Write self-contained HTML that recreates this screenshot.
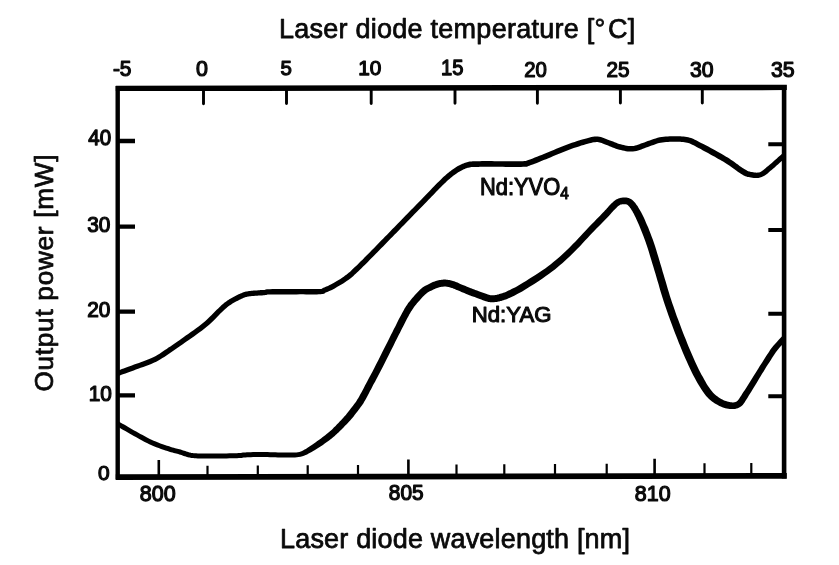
<!DOCTYPE html>
<html lang="en"><head><meta charset="utf-8"><title>Output power vs laser diode wavelength</title>
<style>
html,body{margin:0;padding:0;background:#fff}
body{width:839px;height:565px;overflow:hidden}
svg{display:block}
text{font-family:"Liberation Sans",Arial,Helvetica,sans-serif;fill:#0a0a0a}
.ax{font-size:27px;stroke:#0a0a0a;stroke-width:0.75px;stroke-linejoin:round}
.tk{font-size:23.1px;stroke:#0a0a0a;stroke-width:1.25px;stroke-linejoin:round}
.lb{font-size:24.2px;stroke:#0a0a0a;stroke-width:1.1px;stroke-linejoin:round}
</style></head>
<body>
<svg width="839" height="565" viewBox="0 0 839 565">
<rect width="839" height="565" fill="#fff"/>
<g stroke="#000" fill="none" stroke-linecap="butt">
<path d="M117.7 479.5L117.7 86" stroke-width="4.4"/>
<path d="M115.8 88.4L786.8 87.4" stroke-width="5.4"/>
<path d="M784.1 85L784.1 478.4" stroke-width="4.6"/>
<path d="M115.8 477.2L786.8 475.9" stroke-width="5.8"/>
<path d="M203.5 89L203.5 103.7M286.5 89L286.5 103.6M371.2 89L371.2 103.5M455.0 89L455.0 103.3M537.4 89L537.4 103.2M620.4 89L620.4 103.1M702.3 89L702.3 103.0" stroke-width="2.9" stroke-linecap="round"/>
<path d="M158.8 476L158.8 460.1M408.4 476L408.4 459.5M654.6 476L654.6 458.8" stroke-width="2.6"/>
<path d="M207.5 476L207.5 465.8M257.8 476L257.8 465.6M307.7 476L307.7 465.3M358.0 476L358.0 465.0M456.5 476L456.5 464.5M504.3 476L504.3 464.3M555.0 476L555.0 464.0M606.7 476L606.7 463.7M704.5 476L704.5 463.2M751.3 476L751.3 463.0" stroke-width="2.2"/>
<path d="M119 141.0L135 141.0M119 226.6L135 226.6M119 311.6L135 311.6M119 395.4L135 395.4" stroke-width="4.3"/>
<path d="M783 144.3L768.3 144.3M783 230.0L768.3 230.0M783 313.8L768.3 313.8M783 396.2L768.3 396.2" stroke-width="3.9"/>
<path d="M118.4 376.0L118.5 376.0L118.5 376.0L118.5 375.9L118.7 375.9L118.9 375.8L119.3 375.7L120.0 375.4L120.9 375.1L122.1 374.6L123.7 374.1L125.4 373.5L127.3 372.8L129.4 372.0L131.5 371.2L133.7 370.4L135.9 369.6L138.2 368.7L140.7 367.8L143.3 366.9L145.9 365.9L148.6 364.9L151.2 363.9L153.8 362.8L156.2 361.7L158.4 360.5L160.5 359.3L162.4 358.1L164.3 356.9L166.1 355.7L167.9 354.5L169.7 353.2L171.5 352.0L173.3 350.8L175.1 349.6L176.9 348.3L178.7 347.1L180.5 345.8L182.4 344.5L184.4 343.1L186.5 341.6L188.8 339.9L191.3 338.2L193.9 336.4L196.5 334.5L199.2 332.6L201.8 330.7L204.3 328.7L206.7 326.8L208.9 324.9L211.1 322.9L213.2 320.9L215.2 318.9L217.1 317.0L218.8 315.2L220.4 313.6L221.8 312.2L223.1 311.0L224.1 310.0L225.0 309.2L225.8 308.5L226.5 307.9L227.2 307.3L227.9 306.7L228.7 306.1L229.5 305.5L230.4 304.9L231.2 304.4L232.1 303.8L232.9 303.3L233.8 302.8L234.7 302.3L235.6 301.8L236.5 301.3L237.3 300.9L238.2 300.4L239.1 300.0L240.0 299.6L240.8 299.2L241.6 298.8L242.4 298.4L243.2 298.1L243.9 297.8L244.6 297.6L245.2 297.3L245.9 297.1L246.5 296.9L247.2 296.8L248.0 296.6L248.9 296.4L249.8 296.3L250.8 296.2L251.8 296.1L252.9 296.0L254.0 295.9L255.1 295.8L256.2 295.7L257.3 295.7L258.5 295.6L259.7 295.5L260.9 295.4L262.1 295.4L263.2 295.3L264.3 295.2L265.3 295.1L266.1 295.0L267.1 294.7L267.8 294.3L267.4 294.5L267.0 294.6L267.3 294.6L268.3 294.5L270.1 294.4L272.6 294.4L276.0 294.4L279.8 294.4L284.0 294.4L288.3 294.4L292.6 294.4L296.5 294.4L300.0 294.3L303.1 294.3L306.2 294.4L309.1 294.4L311.9 294.4L314.4 294.4L316.8 294.4L318.9 294.3L320.7 294.2L322.0 294.1L323.0 294.0L323.9 293.8L324.9 293.2L325.4 292.7L325.3 292.7L325.2 292.8L325.6 292.6L326.4 292.3L327.3 291.9L328.3 291.5L329.4 291.0L330.6 290.5L331.9 289.9L333.3 289.2L334.7 288.4L336.2 287.6L337.8 286.6L339.6 285.6L341.4 284.5L343.2 283.4L345.0 282.2L346.7 281.1L348.3 280.0L349.7 278.9L351.0 277.9L352.2 276.9L353.4 275.9L354.5 274.8L355.7 273.7L357.0 272.6L358.4 271.3L359.9 269.8L361.5 268.3L363.1 266.6L364.8 264.9L366.6 263.2L368.3 261.4L370.1 259.6L371.9 257.8L373.7 256.0L375.6 254.1L377.4 252.2L379.3 250.3L381.2 248.3L383.1 246.4L385.0 244.4L386.9 242.5L388.8 240.6L390.7 238.6L392.6 236.7L394.4 234.8L396.3 232.9L398.2 230.9L400.1 229.0L401.9 227.1L403.8 225.2L405.7 223.2L407.6 221.3L409.4 219.4L411.3 217.5L413.2 215.5L415.1 213.6L416.9 211.7L418.8 209.7L420.8 207.7L422.8 205.7L424.7 203.7L426.7 201.7L428.5 199.8L430.3 198.0L431.9 196.3L433.5 194.7L434.9 193.2L436.2 191.8L437.5 190.5L438.7 189.3L439.9 188.1L441.0 186.9L442.1 185.8L443.2 184.8L444.2 183.8L445.1 182.9L446.1 182.0L447.0 181.1L447.9 180.3L448.8 179.5L449.8 178.7L450.8 177.8L451.9 177.0L452.9 176.1L454.0 175.3L455.1 174.5L456.2 173.7L457.2 173.0L458.2 172.3L459.2 171.7L460.1 171.2L461.1 170.7L462.0 170.2L462.9 169.8L463.8 169.3L464.7 169.0L465.5 168.6L466.3 168.3L467.1 168.1L467.7 167.8L468.4 167.7L469.1 167.5L469.7 167.4L470.5 167.2L471.4 167.1L472.2 167.0L473.0 167.0L473.8 166.9L474.7 166.9L475.7 166.9L476.9 166.9L478.4 166.9L480.0 166.8L482.0 166.8L484.2 166.8L486.6 166.8L489.1 166.8L491.8 166.8L494.5 166.8L497.3 166.8L500.0 166.8L502.8 166.8L505.9 166.9L509.2 166.9L512.4 166.9L515.5 166.9L518.4 166.9L521.0 166.9L523.1 166.8L524.5 166.8L525.4 166.8L526.0 166.8L526.8 166.7L527.5 166.4L527.9 166.3L528.4 166.0L529.4 165.7L531.0 165.1L532.8 164.5L534.7 163.7L536.9 162.9L539.1 162.0L541.4 161.1L543.7 160.1L546.1 159.2L548.4 158.2L550.9 157.2L553.4 156.1L555.9 155.1L558.4 154.0L561.0 152.9L563.5 151.9L566.0 150.9L568.5 150.0L571.1 149.1L573.7 148.1L576.4 147.2L578.9 146.4L581.4 145.6L583.6 144.9L585.8 144.3L587.7 143.8L589.4 143.3L591.0 142.9L592.5 142.6L593.8 142.3L595.1 142.2L596.3 142.1L597.5 142.1L598.6 142.2L599.6 142.4L600.6 142.7L601.6 143.1L602.7 143.5L603.9 144.1L605.2 144.6L606.6 145.1L608.1 145.6L609.5 146.2L611.0 146.8L612.6 147.4L614.2 148.1L615.9 148.7L617.6 149.2L619.3 149.7L620.9 150.1L622.5 150.5L624.2 150.8L625.9 151.2L627.6 151.4L629.4 151.6L631.1 151.6L632.9 151.6L634.7 151.3L636.5 151.0L638.1 150.5L639.7 149.9L641.3 149.4L642.9 148.8L644.4 148.2L646.1 147.6L647.9 147.0L649.7 146.3L651.6 145.6L653.5 144.9L655.4 144.2L657.2 143.6L659.0 143.1L660.8 142.7L662.5 142.4L664.3 142.2L666.1 142.0L668.0 141.9L669.8 141.8L671.7 141.8L673.5 141.8L675.2 141.8L676.9 141.8L678.5 141.8L680.1 141.8L681.6 141.9L683.0 142.0L684.4 142.2L685.8 142.4L687.1 142.7L688.3 143.0L689.3 143.3L690.3 143.7L691.3 144.2L692.3 144.7L693.6 145.3L695.0 146.1L696.6 146.9L698.5 147.9L700.7 149.1L703.0 150.4L705.5 151.7L708.0 153.0L710.4 154.4L712.7 155.7L714.8 156.8L716.7 157.9L718.4 158.9L720.0 159.8L721.6 160.7L723.1 161.6L724.6 162.6L726.1 163.5L727.7 164.5L729.3 165.6L731.0 166.8L732.7 168.0L734.5 169.3L736.2 170.6L737.8 171.8L739.4 172.8L740.9 173.8L742.2 174.5L743.3 175.2L744.3 175.7L745.4 176.2L746.4 176.6L747.5 176.9L748.6 177.1L749.8 177.3L751.0 177.5L752.3 177.7L753.8 177.9L755.3 178.0L756.8 178.0L758.4 177.9L760.1 177.5L761.7 177.0L763.3 176.3L764.8 175.4L766.2 174.4L767.6 173.4L768.9 172.2L770.2 171.0L771.6 169.9L773.0 168.7L774.6 167.4L776.3 165.8L778.2 164.2L780.0 162.5L781.8 161.0L783.4 159.5L784.7 158.3L785.7 157.4L782.3 153.6L781.3 154.4L779.9 155.7L778.3 157.1L776.6 158.7L774.7 160.3L772.9 161.9L771.2 163.4L769.6 164.7L768.2 165.9L766.8 167.1L765.5 168.3L764.3 169.3L763.1 170.3L762.0 171.1L760.9 171.7L759.9 172.2L758.9 172.5L757.8 172.6L756.7 172.7L755.5 172.6L754.3 172.5L753.1 172.3L752.0 172.1L750.8 171.9L749.8 171.6L749.0 171.4L748.3 171.2L747.6 170.9L746.9 170.5L746.1 170.1L745.1 169.5L743.9 168.8L742.6 168.0L741.2 167.0L739.6 165.9L737.9 164.6L736.2 163.4L734.4 162.1L732.6 160.8L730.9 159.7L729.3 158.6L727.7 157.6L726.1 156.7L724.6 155.7L723.0 154.8L721.3 153.8L719.5 152.8L717.6 151.8L715.5 150.6L713.2 149.3L710.8 148.0L708.3 146.6L705.8 145.3L703.4 144.0L701.1 142.9L699.2 141.9L697.5 141.1L696.1 140.3L694.8 139.7L693.6 139.1L692.4 138.6L691.1 138.1L689.8 137.7L688.3 137.3L686.8 137.0L685.2 136.7L683.6 136.5L681.9 136.4L680.3 136.3L678.6 136.3L676.9 136.3L675.2 136.2L673.4 136.2L671.6 136.3L669.7 136.3L667.7 136.4L665.7 136.5L663.7 136.7L661.7 136.9L659.6 137.3L657.6 137.8L655.6 138.4L653.6 139.0L651.6 139.7L649.7 140.4L647.8 141.1L646.0 141.8L644.3 142.4L642.6 143.0L640.9 143.6L639.4 144.2L637.9 144.7L636.5 145.2L635.1 145.6L633.8 145.9L632.5 146.0L631.1 146.1L629.7 146.0L628.3 145.9L626.8 145.7L625.3 145.4L623.8 145.1L622.2 144.7L620.7 144.3L619.2 143.9L617.7 143.4L616.2 142.8L614.6 142.2L613.1 141.6L611.5 141.0L610.0 140.4L608.6 139.9L607.3 139.4L606.1 138.9L604.9 138.4L603.6 137.9L602.3 137.4L600.9 137.0L599.4 136.7L597.7 136.5L596.1 136.5L594.5 136.6L593.0 136.8L591.4 137.1L589.7 137.5L588.0 137.9L586.2 138.4L584.2 138.9L582.1 139.5L579.7 140.3L577.2 141.1L574.6 141.9L571.9 142.8L569.2 143.8L566.6 144.7L564.0 145.7L561.4 146.7L558.9 147.7L556.3 148.8L553.7 149.9L551.1 151.0L548.7 152.0L546.3 153.0L543.9 154.0L541.6 154.9L539.3 155.8L537.0 156.8L534.8 157.6L532.7 158.4L530.8 159.2L529.1 159.8L527.6 160.3L526.4 160.7L525.7 161.1L525.3 161.2L525.5 161.1L525.7 161.1L525.3 161.1L524.4 161.1L522.9 161.2L520.9 161.2L518.4 161.2L515.5 161.2L512.4 161.2L509.2 161.2L506.0 161.2L502.9 161.2L500.0 161.2L497.3 161.2L494.5 161.2L491.8 161.1L489.1 161.1L486.6 161.1L484.2 161.1L481.9 161.1L480.0 161.2L478.3 161.2L476.9 161.2L475.7 161.2L474.6 161.2L473.6 161.2L472.6 161.3L471.6 161.4L470.6 161.5L469.6 161.6L468.7 161.8L467.8 162.0L467.0 162.2L466.1 162.4L465.2 162.7L464.4 163.0L463.5 163.4L462.5 163.8L461.5 164.2L460.5 164.7L459.5 165.2L458.4 165.7L457.4 166.3L456.3 167.0L455.2 167.7L454.1 168.4L453.0 169.2L451.8 170.0L450.7 170.9L449.5 171.8L448.4 172.7L447.3 173.6L446.2 174.5L445.2 175.4L444.2 176.3L443.3 177.1L442.3 178.0L441.4 178.9L440.4 179.9L439.4 180.9L438.3 182.0L437.2 183.1L436.0 184.3L434.8 185.5L433.6 186.8L432.3 188.1L431.0 189.5L429.6 191.0L428.1 192.5L426.4 194.2L424.7 196.0L422.8 197.9L420.9 199.9L418.9 201.9L416.9 204.0L415.0 206.0L413.1 207.9L411.2 209.8L409.3 211.8L407.4 213.7L405.6 215.6L403.7 217.5L401.8 219.5L399.9 221.4L398.1 223.3L396.2 225.2L394.3 227.2L392.4 229.1L390.6 231.0L388.7 232.9L386.8 234.9L384.9 236.8L383.1 238.7L381.2 240.6L379.3 242.6L377.4 244.5L375.5 246.5L373.6 248.4L371.7 250.3L369.9 252.2L368.1 254.0L366.3 255.8L364.5 257.6L362.8 259.4L361.0 261.1L359.3 262.8L357.7 264.4L356.1 265.9L354.6 267.3L353.3 268.6L352.0 269.8L350.9 270.9L349.8 271.9L348.7 272.8L347.6 273.7L346.4 274.7L345.1 275.6L343.7 276.7L342.1 277.8L340.4 278.9L338.6 280.0L336.9 281.0L335.2 282.0L333.6 283.0L332.1 283.8L330.8 284.5L329.6 285.1L328.4 285.7L327.3 286.2L326.3 286.6L325.3 287.0L324.3 287.4L323.4 287.8L322.5 288.2L321.8 288.8L321.3 289.3L321.5 289.1L322.1 288.8L322.1 288.8L321.5 288.9L320.3 289.0L318.7 289.0L316.7 289.1L314.4 289.1L311.9 289.1L309.1 289.1L306.2 289.1L303.1 289.0L300.0 289.1L296.5 289.1L292.6 289.1L288.3 289.1L284.0 289.1L279.8 289.1L276.0 289.1L272.6 289.1L269.9 289.2L268.1 289.2L266.8 289.3L265.9 289.4L265.0 289.7L264.4 290.2L264.8 289.9L265.1 289.8L264.7 289.9L263.9 289.9L262.8 290.0L261.7 290.1L260.6 290.1L259.4 290.2L258.1 290.3L256.9 290.4L255.8 290.5L254.7 290.5L253.6 290.6L252.5 290.7L251.3 290.8L250.2 290.9L249.1 291.1L248.0 291.2L247.0 291.4L246.0 291.6L245.1 291.8L244.3 292.1L243.5 292.3L242.7 292.6L242.0 292.9L241.2 293.2L240.4 293.6L239.5 293.9L238.6 294.3L237.7 294.8L236.7 295.2L235.8 295.7L234.9 296.2L233.9 296.7L233.0 297.2L232.1 297.7L231.2 298.2L230.3 298.8L229.3 299.3L228.4 299.9L227.4 300.5L226.5 301.2L225.5 301.9L224.6 302.6L223.8 303.2L223.0 303.9L222.3 304.6L221.4 305.3L220.5 306.2L219.4 307.2L218.2 308.4L216.7 309.8L215.0 311.5L213.3 313.3L211.4 315.2L209.5 317.1L207.5 319.0L205.4 320.9L203.3 322.8L201.1 324.6L198.6 326.4L196.1 328.3L193.5 330.2L190.8 332.1L188.2 333.9L185.8 335.6L183.5 337.2L181.4 338.7L179.4 340.2L177.5 341.5L175.7 342.7L173.9 344.0L172.1 345.2L170.4 346.4L168.5 347.6L166.7 348.9L164.9 350.1L163.1 351.3L161.3 352.5L159.6 353.7L157.8 354.8L155.8 355.9L153.8 356.9L151.6 358.0L149.2 359.0L146.7 360.0L144.1 361.0L141.4 361.9L138.9 362.9L136.4 363.8L134.1 364.6L131.9 365.4L129.7 366.3L127.5 367.0L125.5 367.8L123.6 368.5L121.9 369.1L120.3 369.7L119.1 370.1L118.2 370.4L117.5 370.7L117.1 370.8L116.9 370.9L116.9 370.9L116.8 370.9L116.7 371.0L116.6 371.0Z" fill="#000" stroke="none"/>
<path d="M116.5 426.1L116.7 426.2L117.2 426.3L117.0 426.3L116.8 426.2L116.9 426.2L117.2 426.4L117.8 426.8L118.8 427.3L120.0 428.0L121.5 428.9L123.3 430.0L125.3 431.1L127.4 432.3L129.5 433.6L131.7 434.8L133.8 436.0L135.9 437.1L138.0 438.3L140.2 439.5L142.5 440.8L144.7 442.0L147.0 443.1L149.3 444.2L151.6 445.3L153.9 446.3L156.3 447.2L158.7 448.1L161.0 448.9L163.3 449.7L165.5 450.4L167.5 451.1L169.3 451.7L171.0 452.2L172.5 452.6L173.8 453.0L175.0 453.3L176.1 453.6L177.2 453.8L178.2 454.1L179.3 454.4L180.4 454.7L181.5 455.1L182.5 455.5L183.6 455.9L184.7 456.2L185.8 456.6L186.9 456.9L188.0 457.2L188.9 457.4L189.7 457.6L190.5 457.8L191.3 457.9L192.2 458.1L193.2 458.1L194.4 458.2L195.9 458.3L197.7 458.4L199.8 458.4L202.1 458.4L204.6 458.4L207.1 458.4L209.8 458.4L212.4 458.4L215.0 458.4L217.7 458.4L220.6 458.4L223.6 458.4L226.6 458.4L229.5 458.3L232.3 458.3L234.9 458.3L237.1 458.2L238.9 458.1L240.4 458.0L241.6 457.9L242.6 457.7L243.5 457.6L244.5 457.5L245.6 457.4L247.1 457.3L248.9 457.2L250.9 457.2L253.1 457.1L255.4 457.1L257.8 457.1L260.2 457.1L262.6 457.1L265.0 457.1L267.4 457.1L270.0 457.2L272.6 457.3L275.2 457.3L277.9 457.4L280.4 457.5L282.9 457.5L285.2 457.5L287.3 457.5L289.3 457.5L291.3 457.5L293.2 457.5L295.0 457.5L296.9 457.3L298.7 457.1L300.6 456.7L302.4 456.3L304.0 455.7L305.6 455.1L307.1 454.4L308.6 453.6L310.1 452.8L311.6 452.0L313.2 451.1L315.0 450.0L316.9 448.8L318.9 447.5L320.9 446.2L322.9 444.9L324.7 443.5L326.5 442.3L328.0 441.2L329.4 440.2L330.6 439.2L331.7 438.4L332.8 437.5L333.7 436.7L334.7 435.9L335.6 435.1L336.5 434.2L337.5 433.3L338.5 432.4L339.4 431.5L340.4 430.6L341.3 429.7L342.2 428.8L343.1 427.9L343.9 427.0L344.8 426.0L345.8 425.1L346.7 424.2L347.6 423.2L348.5 422.3L349.4 421.3L350.4 420.3L351.2 419.3L352.1 418.2L353.0 417.2L353.8 416.2L354.6 415.1L355.4 414.1L356.2 413.0L357.0 411.9L357.8 410.9L358.5 409.9L359.3 409.0L360.0 408.0L360.7 407.0L361.5 405.9L362.4 404.7L363.3 403.4L364.2 401.8L365.3 400.0L366.4 397.9L367.6 395.7L368.8 393.5L370.0 391.1L371.2 388.9L372.3 386.7L373.4 384.6L374.3 382.9L375.2 381.4L375.9 380.0L376.7 378.6L377.5 377.0L378.4 375.3L379.6 373.1L380.9 370.5L382.6 367.2L384.5 363.4L386.6 359.2L388.9 354.7L391.1 350.2L393.3 345.9L395.3 341.8L397.1 338.3L398.7 335.1L400.2 332.2L401.5 329.5L402.8 327.0L404.0 324.7L405.1 322.5L406.1 320.5L407.1 318.6L408.0 317.0L408.8 315.5L409.4 314.3L410.1 313.2L410.6 312.2L411.2 311.3L411.8 310.4L412.4 309.4L413.1 308.5L413.7 307.6L414.2 306.8L414.8 306.0L415.4 305.2L416.1 304.4L416.8 303.5L417.7 302.6L418.6 301.5L419.6 300.4L420.6 299.2L421.7 298.0L422.8 296.8L423.9 295.7L424.9 294.7L425.8 293.9L426.7 293.2L427.6 292.6L428.4 292.1L429.3 291.6L430.2 291.1L431.1 290.7L432.1 290.2L433.0 289.8L433.9 289.3L434.7 288.9L435.6 288.6L436.3 288.3L437.1 288.0L437.9 287.7L438.6 287.5L439.4 287.3L440.1 287.1L440.9 287.0L441.6 286.8L442.4 286.7L443.1 286.7L443.9 286.6L444.6 286.6L445.3 286.6L446.0 286.6L446.7 286.7L447.3 286.8L448.0 286.9L448.7 287.1L449.5 287.2L450.2 287.4L451.0 287.7L451.7 287.9L452.4 288.1L453.1 288.4L453.9 288.7L454.7 289.1L455.6 289.5L456.6 289.9L457.7 290.3L458.8 290.8L460.1 291.3L461.4 291.9L462.8 292.5L464.3 293.1L465.7 293.7L467.0 294.3L468.2 294.8L469.3 295.2L470.3 295.5L471.2 295.9L472.1 296.2L472.9 296.5L473.8 296.8L474.7 297.1L475.8 297.5L477.0 297.9L478.4 298.5L479.8 299.0L481.3 299.6L482.9 300.2L484.4 300.7L485.8 301.2L487.1 301.6L488.2 301.9L489.3 302.1L490.2 302.2L491.1 302.3L491.9 302.3L492.7 302.3L493.5 302.2L494.2 302.2L495.0 302.1L495.9 302.1L496.7 301.9L497.6 301.8L498.4 301.6L499.3 301.4L500.3 301.1L501.3 300.9L502.4 300.5L503.4 300.2L504.6 299.8L505.8 299.4L507.1 298.9L508.5 298.3L509.9 297.7L511.5 297.0L513.1 296.2L514.7 295.4L516.4 294.5L518.2 293.6L520.2 292.6L522.2 291.4L524.5 290.1L526.9 288.6L529.6 286.8L532.6 284.9L535.8 282.9L539.2 280.7L542.5 278.4L545.9 276.1L549.1 273.8L552.1 271.5L554.9 269.4L557.5 267.2L560.1 265.1L562.6 262.9L565.0 260.7L567.4 258.5L569.9 256.2L572.4 253.8L574.9 251.3L577.6 248.6L580.2 245.9L582.8 243.1L585.3 240.3L587.8 237.7L590.2 235.1L592.4 232.7L594.6 230.5L596.7 228.3L598.8 226.2L600.8 224.2L602.7 222.3L604.4 220.4L606.1 218.8L607.6 217.2L608.8 215.9L609.9 214.7L610.8 213.7L611.6 212.8L612.3 212.0L613.0 211.3L613.6 210.6L614.3 209.9L615.1 209.1L615.8 208.4L616.5 207.7L617.1 207.1L617.7 206.6L618.2 206.1L618.7 205.7L619.2 205.4L619.7 205.1L620.2 204.8L620.7 204.6L621.2 204.5L621.6 204.4L622.1 204.3L622.7 204.2L623.2 204.2L623.9 204.2L624.5 204.2L625.1 204.2L625.6 204.2L626.1 204.3L626.5 204.5L626.9 204.6L627.2 204.8L627.7 205.1L628.2 205.5L628.6 206.0L629.1 206.5L629.6 207.1L630.2 207.9L630.9 208.8L631.5 209.9L632.3 211.1L633.0 212.4L633.8 213.8L634.6 215.4L635.4 217.1L636.3 218.9L637.2 220.9L638.1 223.0L639.1 225.3L640.1 227.8L641.2 230.4L642.3 233.2L643.4 236.1L644.5 239.1L645.6 242.1L646.7 245.2L647.8 248.5L648.9 251.9L649.9 255.4L651.0 259.0L652.1 262.7L653.2 266.3L654.3 270.0L655.4 273.6L656.4 277.1L657.4 280.6L658.5 284.1L659.5 287.7L660.5 291.2L661.6 294.7L662.7 298.2L663.8 301.7L664.9 305.1L666.1 308.6L667.3 312.0L668.5 315.4L669.7 318.8L670.9 322.1L672.2 325.5L673.4 328.8L674.7 332.2L676.0 335.6L677.4 339.0L678.7 342.4L680.1 345.8L681.4 349.1L682.8 352.4L684.1 355.5L685.4 358.6L686.8 361.6L688.1 364.5L689.5 367.5L690.8 370.3L692.1 373.0L693.5 375.7L694.9 378.3L696.2 380.8L697.6 383.2L699.0 385.6L700.4 387.8L701.8 390.0L703.2 392.1L704.6 394.1L706.1 395.9L707.6 397.5L709.0 399.0L710.5 400.3L712.0 401.5L713.5 402.5L714.9 403.4L716.4 404.3L717.8 405.1L719.3 405.9L720.8 406.6L722.3 407.2L723.8 407.7L725.3 408.2L726.8 408.5L728.3 408.8L729.7 409.0L731.1 409.1L732.4 409.1L733.8 409.1L735.1 408.9L736.5 408.6L737.8 408.2L739.2 407.6L740.5 406.8L741.6 405.9L742.7 404.9L743.6 403.8L744.4 402.7L745.1 401.5L745.9 400.2L746.7 398.9L747.7 397.4L748.8 395.6L750.1 393.6L751.4 391.5L752.7 389.3L754.1 387.0L755.5 384.7L756.9 382.4L758.2 380.2L759.5 378.1L760.9 375.8L762.2 373.6L763.6 371.4L764.9 369.2L766.2 367.1L767.5 365.1L768.7 363.2L769.9 361.4L771.0 359.7L772.0 358.0L773.0 356.5L774.0 355.0L775.0 353.5L776.0 352.1L777.0 350.7L778.2 349.3L779.4 347.8L780.7 346.3L782.0 344.9L783.3 343.5L784.4 342.3L785.4 341.3L786.1 340.5L781.9 336.5L781.1 337.3L780.2 338.3L779.0 339.5L777.7 340.9L776.4 342.4L775.0 344.0L773.6 345.5L772.4 347.1L771.2 348.6L770.1 350.1L769.1 351.7L768.1 353.2L767.0 354.8L765.9 356.5L764.8 358.2L763.7 360.0L762.5 361.9L761.2 364.0L759.8 366.1L758.5 368.3L757.1 370.5L755.7 372.7L754.4 374.8L753.0 377.0L751.6 379.2L750.2 381.4L748.8 383.7L747.4 386.0L746.0 388.2L744.7 390.2L743.4 392.1L742.3 393.8L741.3 395.4L740.4 396.8L739.6 398.0L739.0 399.0L738.4 399.8L737.8 400.4L737.3 400.9L736.7 401.4L736.1 401.7L735.5 402.0L734.8 402.2L734.1 402.3L733.3 402.4L732.4 402.4L731.5 402.3L730.5 402.2L729.5 402.1L728.4 401.8L727.2 401.5L726.0 401.1L724.8 400.7L723.6 400.2L722.4 399.6L721.2 398.9L720.0 398.2L718.8 397.4L717.6 396.6L716.4 395.7L715.2 394.8L714.1 393.7L712.9 392.5L711.7 391.1L710.5 389.6L709.3 387.8L708.0 385.9L706.7 383.9L705.5 381.7L704.2 379.5L702.9 377.1L701.5 374.7L700.2 372.2L698.9 369.7L697.6 367.0L696.3 364.2L695.0 361.4L693.7 358.5L692.4 355.5L691.1 352.5L689.8 349.4L688.4 346.2L687.1 343.0L685.8 339.6L684.4 336.3L683.1 332.9L681.8 329.5L680.6 326.2L679.3 322.8L678.1 319.5L676.8 316.2L675.6 312.8L674.5 309.5L673.3 306.1L672.1 302.7L671.0 299.3L669.9 295.9L668.9 292.5L667.8 289.0L666.8 285.5L665.8 282.0L664.7 278.5L663.7 275.0L662.6 271.4L661.6 267.8L660.5 264.2L659.4 260.5L658.3 256.8L657.2 253.2L656.1 249.6L655.0 246.1L653.9 242.8L652.8 239.6L651.6 236.4L650.5 233.4L649.3 230.4L648.2 227.6L647.0 224.9L645.9 222.4L644.9 220.0L643.9 217.8L642.9 215.7L641.9 213.8L641.0 212.1L640.1 210.4L639.2 208.9L638.3 207.4L637.5 206.1L636.6 204.9L635.8 203.8L635.1 202.8L634.3 201.9L633.4 201.0L632.6 200.3L631.7 199.6L630.8 199.0L629.7 198.4L628.6 198.0L627.4 197.7L626.4 197.6L625.4 197.5L624.5 197.5L623.6 197.5L622.8 197.6L621.9 197.7L621.0 197.8L620.2 198.0L619.3 198.3L618.4 198.6L617.5 198.9L616.7 199.3L615.8 199.8L614.9 200.4L614.1 201.0L613.3 201.7L612.6 202.4L611.9 203.1L611.1 203.8L610.4 204.6L609.7 205.3L608.9 206.1L608.2 206.9L607.5 207.7L606.8 208.5L606.0 209.4L605.1 210.3L604.1 211.5L602.8 212.8L601.4 214.3L599.8 215.9L598.0 217.7L596.2 219.6L594.2 221.7L592.1 223.8L589.9 226.0L587.8 228.3L585.5 230.7L583.1 233.2L580.6 235.9L578.0 238.7L575.5 241.4L572.9 244.1L570.3 246.7L567.8 249.2L565.4 251.5L563.0 253.7L560.6 255.9L558.3 258.0L555.9 260.1L553.4 262.1L550.8 264.2L548.1 266.3L545.2 268.4L542.1 270.6L538.8 272.8L535.4 275.0L532.1 277.1L528.9 279.1L526.0 281.0L523.3 282.6L520.9 284.1L518.8 285.3L516.8 286.4L515.0 287.4L513.2 288.3L511.6 289.1L510.0 289.9L508.5 290.6L507.1 291.3L505.8 291.9L504.5 292.4L503.4 292.8L502.3 293.2L501.3 293.5L500.3 293.8L499.3 294.1L498.4 294.4L497.6 294.6L496.9 294.8L496.3 294.9L495.7 295.0L495.1 295.1L494.5 295.2L493.8 295.2L493.1 295.2L492.5 295.3L492.0 295.3L491.5 295.3L491.0 295.2L490.4 295.2L489.7 295.0L488.9 294.8L487.9 294.5L486.7 294.1L485.3 293.6L483.8 293.1L482.3 292.5L480.9 291.9L479.5 291.4L478.2 290.9L477.1 290.5L476.1 290.2L475.2 289.9L474.4 289.6L473.6 289.3L472.7 289.0L471.8 288.6L470.8 288.2L469.6 287.8L468.4 287.3L467.0 286.7L465.6 286.1L464.2 285.5L462.8 284.9L461.5 284.4L460.3 283.9L459.3 283.4L458.4 283.0L457.5 282.6L456.6 282.3L455.7 281.9L454.9 281.6L453.9 281.2L453.0 280.9L452.1 280.7L451.2 280.4L450.3 280.2L449.4 280.0L448.4 279.9L447.5 279.7L446.5 279.7L445.5 279.6L444.5 279.6L443.5 279.6L442.6 279.7L441.6 279.8L440.6 279.9L439.6 280.1L438.6 280.3L437.6 280.5L436.7 280.8L435.7 281.1L434.7 281.4L433.8 281.8L432.8 282.1L431.9 282.6L430.9 283.0L430.0 283.4L429.0 283.9L428.1 284.4L427.1 284.9L426.0 285.4L424.9 286.1L423.7 286.8L422.5 287.6L421.4 288.5L420.2 289.6L419.0 290.7L417.8 291.9L416.6 293.2L415.4 294.5L414.3 295.7L413.3 296.9L412.3 298.0L411.5 299.0L410.7 300.0L410.0 300.9L409.3 301.7L408.6 302.6L407.9 303.6L407.3 304.5L406.6 305.6L405.9 306.6L405.3 307.6L404.6 308.6L404.0 309.7L403.3 310.9L402.6 312.2L401.8 313.7L400.9 315.4L399.9 317.3L398.8 319.3L397.7 321.5L396.5 323.9L395.3 326.4L393.9 329.1L392.5 332.0L390.9 335.1L389.1 338.7L387.1 342.7L384.9 347.1L382.6 351.6L380.4 356.0L378.3 360.3L376.3 364.1L374.7 367.3L373.3 369.9L372.3 372.0L371.3 373.7L370.5 375.2L369.8 376.6L369.0 378.0L368.2 379.6L367.2 381.4L366.1 383.4L365.0 385.6L363.8 387.9L362.6 390.2L361.4 392.5L360.2 394.6L359.2 396.5L358.2 398.2L357.3 399.6L356.5 400.9L355.8 401.9L355.1 402.9L354.4 403.8L353.7 404.7L353.0 405.7L352.2 406.7L351.4 407.8L350.6 408.8L349.9 409.8L349.1 410.8L348.3 411.8L347.5 412.8L346.7 413.8L346.0 414.7L345.1 415.7L344.3 416.6L343.5 417.6L342.6 418.5L341.7 419.4L340.8 420.4L339.9 421.3L339.1 422.2L338.2 423.2L337.3 424.1L336.4 425.0L335.6 425.9L334.7 426.8L333.8 427.6L333.0 428.5L332.1 429.4L331.2 430.2L330.3 431.0L329.4 431.8L328.5 432.5L327.6 433.3L326.6 434.1L325.5 435.0L324.2 436.0L322.7 437.1L321.0 438.4L319.2 439.7L317.3 441.1L315.4 442.5L313.6 443.8L311.8 445.1L310.2 446.1L308.7 447.1L307.2 448.1L305.9 448.9L304.6 449.6L303.4 450.3L302.1 450.9L300.8 451.4L299.4 451.9L297.9 452.2L296.4 452.4L294.8 452.5L293.1 452.5L291.3 452.5L289.4 452.5L287.3 452.5L285.2 452.5L282.9 452.5L280.5 452.5L278.0 452.4L275.4 452.3L272.7 452.3L270.1 452.2L267.5 452.1L265.0 452.1L262.6 452.1L260.2 452.1L257.7 452.1L255.3 452.1L253.0 452.1L250.8 452.2L248.8 452.2L246.9 452.3L245.3 452.4L244.0 452.5L242.9 452.6L241.9 452.8L241.0 452.9L239.9 453.0L238.6 453.1L236.9 453.2L234.7 453.3L232.2 453.3L229.5 453.3L226.5 453.4L223.5 453.4L220.6 453.4L217.7 453.4L215.0 453.4L212.4 453.4L209.8 453.4L207.1 453.4L204.6 453.4L202.2 453.4L199.9 453.4L197.9 453.4L196.1 453.3L194.7 453.2L193.6 453.2L192.7 453.1L192.0 453.0L191.4 452.9L190.8 452.8L190.1 452.6L189.2 452.4L188.3 452.1L187.3 451.8L186.3 451.5L185.3 451.1L184.2 450.8L183.1 450.4L181.9 450.0L180.7 449.6L179.5 449.3L178.4 449.0L177.3 448.7L176.2 448.4L175.1 448.2L173.8 447.8L172.4 447.4L170.9 446.9L169.1 446.3L167.0 445.7L164.9 445.0L162.7 444.2L160.4 443.4L158.1 442.5L155.8 441.6L153.6 440.7L151.5 439.7L149.3 438.7L147.0 437.5L144.8 436.3L142.6 435.1L140.4 433.9L138.3 432.8L136.2 431.6L134.1 430.5L132.0 429.2L129.9 428.0L127.8 426.8L125.9 425.6L124.1 424.6L122.5 423.7L121.2 422.9L120.3 422.4L119.6 422.0L119.2 421.8L118.8 421.6L118.4 421.5L118.1 421.4L118.5 421.5L118.5 421.5Z" fill="#000" stroke="none"/>
</g>
<text class="ax" x="279" y="38.2" style="letter-spacing:0.25px">Laser diode temperature [°<tspan dx="2.5">C]</tspan></text>
<text class="ax" x="280" y="547.7" textLength="350" lengthAdjust="spacing">Laser diode wavelength [nm]</text>
<text class="ax" style="font-size:26.2px" transform="translate(52.6 391.5) rotate(-90)" textLength="237" lengthAdjust="spacing">Output power [mW]</text>
<text class="tk" style="font-size:21.6px" transform="translate(122.2 75.9) scale(0.970 1)" text-anchor="middle">-5</text>
<text class="tk" style="font-size:21.6px" transform="translate(201.9 75.9) scale(0.990 1)" text-anchor="middle">0</text>
<text class="tk" style="font-size:20.4px" transform="translate(286.2 75.2) scale(1.000 1)" text-anchor="middle">5</text>
<text class="tk" style="font-size:20.8px" transform="translate(369.8 74.6) scale(1.000 1)" text-anchor="middle">10</text>
<text class="tk" style="font-size:22.0px" transform="translate(452.3 74.6) scale(0.920 1)" text-anchor="middle">15</text>
<text class="tk" style="font-size:22.0px" transform="translate(535.5 76.7) scale(0.925 1)" text-anchor="middle">20</text>
<text class="tk" style="font-size:22.3px" transform="translate(618.0 77.2) scale(0.930 1)" text-anchor="middle">25</text>
<text class="tk" style="font-size:22.0px" transform="translate(701.8 77.4) scale(0.963 1)" text-anchor="middle">30</text>
<text class="tk" style="font-size:22.0px" transform="translate(782.8 77.4) scale(0.970 1)" text-anchor="middle">35</text>
<text class="tk" style="font-size:22.4px" transform="translate(157.7 500.7) scale(0.960 1)" text-anchor="middle">800</text>
<text class="tk" style="font-size:21.8px" transform="translate(406.2 499.8) scale(0.955 1)" text-anchor="middle">805</text>
<text class="tk" style="font-size:22.8px" transform="translate(652.7 501.3) scale(0.940 1)" text-anchor="middle">810</text>
<text class="tk" style="font-size:21.4px" transform="translate(111.1 144.8) scale(0.960 1)" text-anchor="end">40</text>
<text class="tk" style="font-size:21.8px" transform="translate(110.4 232.2) scale(0.955 1)" text-anchor="end">30</text>
<text class="tk" style="font-size:21.5px" transform="translate(110.4 317.2) scale(0.967 1)" text-anchor="end">20</text>
<text class="tk" style="font-size:21.5px" transform="translate(111.8 401.1) scale(0.967 1)" text-anchor="end">10</text>
<text class="tk" style="font-size:20.9px" transform="translate(109.5 479.8) scale(1.000 1)" text-anchor="end">0</text>
<text class="lb" style="font-size:23.4px" transform="translate(480.0 195.4) scale(0.935 1)" text-anchor="start">Nd:YVO<tspan dy="3.2" style="font-size:16.5px">4</tspan></text>
<text class="lb" style="font-size:22.4px" transform="translate(471.8 322.1) scale(0.990 1)" text-anchor="start">Nd:YAG</text>
</svg>
</body></html>
